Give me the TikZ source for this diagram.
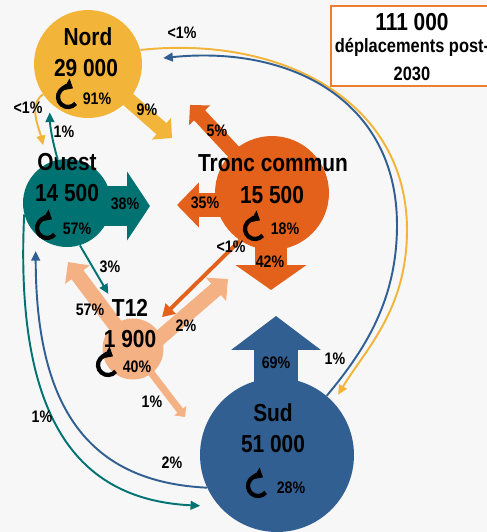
\documentclass[tikz,border=0pt]{standalone}
\usepackage{fontspec}
\setmainfont[FakeStretch=0.85]{Liberation Sans}
\usetikzlibrary{arrows.meta, backgrounds}

\definecolor{bgc}{HTML}{F7F7F7}
\definecolor{nordc}{HTML}{F2B53A}
\definecolor{ouestc}{HTML}{007272}
\definecolor{troncc}{HTML}{E3611A}
\definecolor{t12c}{HTML}{F4B183}
\definecolor{sudc}{HTML}{325F92}
\definecolor{boxc}{HTML}{ED7D31}

\tikzset{
  zone/.style={circle, inner sep=0pt, draw=none},
  zname/.style={font=\fontsize{14}{16}\selectfont\bfseries, inner sep=1pt},
  pct/.style={font=\fontsize{9.5}{11}\selectfont\bfseries, inner sep=1pt},
  boxtext/.style={font=\fontsize{11}{13}\selectfont\bfseries, inner sep=1pt},
  slim/.style={line width=1.1pt, -{Triangle[length=5.5pt,width=5pt]}},
  fat/.style n args={3}{line width=#1, -{Triangle[length=#2,width=#3]}},
  recur/.pic={\draw[line width=2.4pt, -{Triangle[length=4.5pt,width=7.5pt]}]
    (-40:0.2cm) arc[start angle=-40, end angle=-300, radius=0.2cm];},
}

\begin{document}
\begin{tikzpicture}[x=0.02cm, y=0.02cm]
  \useasboundingbox (0,0) rectangle (487,-532);

  % zones
  \node[zone, fill=nordc, minimum size=2.16cm] (nord) at (88,-64) {};
  \node[zone, fill=ouestc, minimum size=1.76cm] (ouest) at (67,-203) {};
  \node[zone, fill=troncc, minimum size=2.28cm] (tronc) at (272,-193) {};
  \node[zone, fill=t12c, minimum size=1.22cm] (t12) at (133,-349) {};
  \node[zone, fill=sudc, minimum size=3.08cm] (sud) at (277,-455) {};

  % ends of the wide arrows
  \coordinate (nordtip) at (172,-138);
  \coordinate (ouesttip) at (150,-206);
  \coordinate (tronctipa) at (190,-105);
  \coordinate (tronctipb) at (177,-205);
  \coordinate (tronctipc) at (271,-290);
  \coordinate (t12tipa) at (68,-262);
  \coordinate (t12tipb) at (228,-279);
  \coordinate (t12tipc) at (185,-417);
  \coordinate (sudtip) at (276,-316);

  \begin{scope}[on background layer]
    \fill[bgc] (0,0) rectangle (487,-532);
    \draw[fat={8.5pt}{8pt}{16pt}, nordc] (nord.center) -- (nordtip);
    \draw[fat={22.7pt}{13pt}{38.5pt}, ouestc] (ouesttip -| ouest.center) -- (ouesttip);
    \draw[fat={8.5pt}{8pt}{16pt}, troncc] (tronc.center) -- (tronctipa);
    \draw[fat={14.2pt}{12.5pt}{25pt}, troncc] (tronctipb -| tronc.center) -- (tronctipb);
    \draw[fat={18pt}{14.2pt}{39.7pt}, troncc] (tronc.center -| tronctipc) -- (tronctipc);
    \draw[fat={8.5pt}{9pt}{17pt}, t12c] (t12.center) -- (t12tipa);
    \draw[fat={8.5pt}{9pt}{17pt}, t12c] ([yshift=-0.24cm]t12.center) -- (t12tipb);
    \draw[fat={4pt}{4.5pt}{8.5pt}, t12c] (t12.center) -- (t12tipc);
    \draw[fat={25.5pt}{19.3pt}{50pt}, sudc] (sud.center -| sudtip) -- (sudtip);
  \end{scope}

  % total
  \node[draw=boxc, line width=0.9pt, fill=white, minimum width=3.24cm, minimum height=1.6cm] (total) at (412,-46) {};
  \node[zname] (totalnb) at (412,-22) {111 000};
  \node[boxtext] (totaltxt) at (412,-47) {déplacements post-};
  \node[boxtext] (totalyr) at (412,-74) {2030};

  % zone texts
  \node[zname] (nordname) at (88,-37) {Nord};
  \node[zname] (nordnb) at (86,-68) {29 000};
  \pic at (68,-97) {recur};
  \node[pct] (nordself) at (97,-99) {91\%};

  \node[zname] (ouestname) at (67,-162) {Ouest};
  \node[zname] (ouestnb) at (67,-193) {14 500};
  \pic at (47,-228) {recur};
  \node[pct] (ouestself) at (77,-229) {57\%};

  \node[zname] (troncname) at (273,-163) {Tronc commun};
  \node[zname] (troncnb) at (272,-195) {15 500};
  \pic at (255,-229) {recur};
  \node[pct] (troncself) at (285,-229) {18\%};

  \node[zname] (t12name) at (130,-308) {T12};
  \node[zname] (t12nb) at (130,-339) {1 900};
  \pic at (108,-365) {recur};
  \node[pct] (t12self) at (137,-367) {40\%};

  \node[zname] (sudname) at (273,-413) {Sud};
  \node[zname] (sudnb) at (273,-444) {51 000};
  \pic at (258,-486) {recur};
  \node[pct] (sudself) at (291,-488) {28\%};

  % exchanges
  \draw[slim, nordc, shorten >=5pt] (nord.15) .. controls (280,-35) and (407,-100) .. (407,-230)
    .. controls (407,-310) and (365,-350) .. (sud.43);
  \draw[slim, sudc, shorten >=12pt] (sud.50) .. controls (365,-350) and (397,-300) .. (397,-225)
    .. controls (397,-100) and (290,-45) .. (nord.4);
  \draw[slim, ouestc, shorten >=11pt] (ouest.195) .. controls (14,-430) and (85,-500) .. (sud.222);
  \draw[slim, sudc, shorten >=9.5pt] (sud.205) .. controls (90,-482) and (36,-410) .. (ouest.225);
  \draw[slim, ouestc, shorten >=5.7pt] (ouest.102) .. controls (52,-140) and (50,-125) .. (nord.225);
  \draw[slim, nordc, shorten >=10.5pt] (nord.214) .. controls (28,-105) and (39,-128) .. (ouest.116);
  \draw[slim, ouestc, shorten >=17pt] (ouest.287) -- (t12.108);
  \draw[line width=2.2pt, troncc, -{Triangle[length=7pt,width=8pt]}, shorten >=7pt] (tronc.236) -- (t12.49);

  % shares
  \node[pct] (nordsudpct) at (182,-33) {<1\%};
  \node[pct] (nordouestpct) at (28,-108) {<1\%};
  \node[pct] (ouestnordpct) at (64,-132) {1\%};
  \node[pct] (nordtroncpct) at (147,-110) {9\%};
  \node[pct] (ouesttroncpct) at (125,-204) {38\%};
  \node[pct] (troncnordpct) at (217,-131) {5\%};
  \node[pct] (troncouestpct) at (205,-203) {35\%};
  \node[pct] (tronct12pct) at (231,-247) {<1\%};
  \node[pct] (troncsudpct) at (270,-262) {42\%};
  \node[pct] (ouestt12pct) at (110,-267) {3\%};
  \node[pct] (t12ouestpct) at (90,-310) {57\%};
  \node[pct] (t12troncpct) at (186,-326) {2\%};
  \node[pct] (t12sudpct) at (152,-402) {1\%};
  \node[pct] (sudtroncpct) at (276,-363) {69\%};
  \node[pct] (sudnordpct) at (335,-359) {1\%};
  \node[pct] (ouestsudpct) at (42,-417) {1\%};
  \node[pct] (sudouestpct) at (172,-463) {2\%};
\end{tikzpicture}
\end{document}
